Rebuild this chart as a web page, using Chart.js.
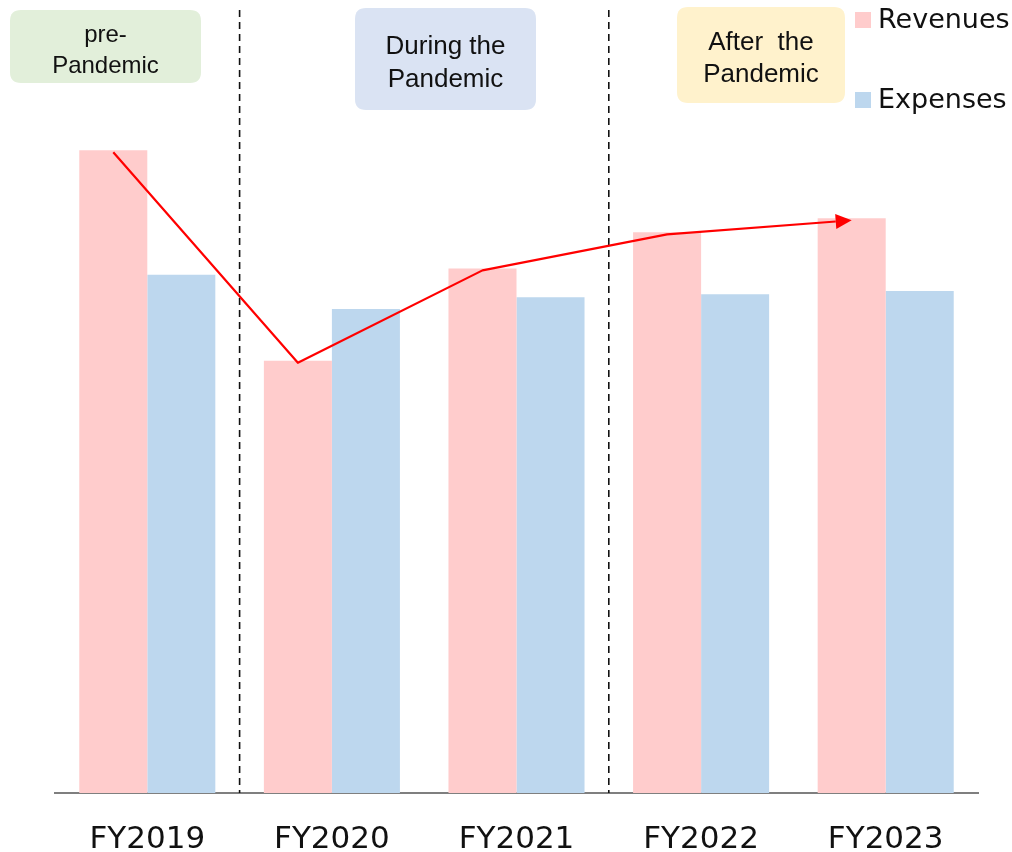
<!DOCTYPE html>
<html>
<head>
<meta charset="utf-8">
<script src="https://cdn.jsdelivr.net/npm/chart.js@4/dist/chart.umd.min.js"></script>
<style>
  html, body { margin: 0; padding: 0; background: #ffffff; }
  canvas { display: block; }
</style>
</head>
<body>
<canvas id="chart" width="1012" height="852"></canvas>
<script>
// Fiscal years on the category axis
const categories = ['FY2019', 'FY2020', 'FY2021', 'FY2022', 'FY2023'];
// Values on a 0–100 index scale
const revenues = [82.1, 55.2, 67.0, 71.6, 73.4];
const expenses = [66.2, 61.8, 63.3, 63.7, 64.1];
const seriesNames = ['Revenues', 'Expenses'];
// Period labels and the category boundaries that separate the periods
const periodLabels = [['pre-', 'Pandemic'], ['During the', 'Pandemic'], ['After  the', 'Pandemic']];
const periodBreaksAfter = [0, 2]; // dashed divider after FY2019 and after FY2021

const COLORS = {
  revenue: '#FFCCCC',
  expense: '#BDD7EE',
  trend: '#FF0000',
  divider: '#111111',
  axis: '#7F7F7F',
  text: '#111111',
  periods: ['#E2EFDA', '#DAE3F3', '#FFF2CC']
};

// Placement of the period boxes and the legend
const periodBoxes = [
  { x: 10,  y: 10, w: 191, h: 73,  font: 24, baselines: [42, 73] },
  { x: 355, y: 8,  w: 181, h: 102, font: 26, baselines: [54, 87] },
  { x: 677, y: 7,  w: 168, h: 96,  font: 26, baselines: [50, 82] }
];
const legendLayout = { x: 855, box: 16, rows: [12, 92], textX: 878, font: 27 };

function roundRect(ctx, x, y, w, h, r) {
  ctx.beginPath();
  ctx.moveTo(x + r, y);
  ctx.lineTo(x + w - r, y);
  ctx.quadraticCurveTo(x + w, y, x + w, y + r);
  ctx.lineTo(x + w, y + h - r);
  ctx.quadraticCurveTo(x + w, y + h, x + w - r, y + h);
  ctx.lineTo(x + r, y + h);
  ctx.quadraticCurveTo(x, y + h, x, y + h - r);
  ctx.lineTo(x, y + r);
  ctx.quadraticCurveTo(x, y, x + r, y);
  ctx.closePath();
}

// Dashed dividers at category boundaries
const dividerPlugin = {
  id: 'dividers',
  beforeDatasetsDraw(chart) {
    const { ctx, chartArea, scales } = chart;
    const xs = scales.x;
    ctx.save();
    ctx.strokeStyle = COLORS.divider;
    ctx.lineWidth = 1.6;
    ctx.setLineDash([7, 5]);
    periodBreaksAfter.forEach(i => {
      const px = (xs.getPixelForValue(i) + xs.getPixelForValue(i + 1)) / 2;
      ctx.beginPath();
      ctx.moveTo(px, 10);
      ctx.lineTo(px, chartArea.bottom);
      ctx.stroke();
    });
    ctx.restore();
  }
};

// Revenue trend line joining the tops of the revenue bars, with an arrowhead
const trendPlugin = {
  id: 'trend',
  afterDatasetsDraw(chart) {
    const { ctx } = chart;
    const bars = chart.getDatasetMeta(0).data;
    const pts = bars.map(b => ({ x: b.x, y: b.y + 2 }));
    ctx.save();
    ctx.strokeStyle = COLORS.trend;
    ctx.fillStyle = COLORS.trend;
    ctx.lineWidth = 2.2;
    ctx.lineJoin = 'round';
    const last = pts[pts.length - 1];
    const prev = pts[pts.length - 2];
    const ang = Math.atan2(last.y - prev.y, last.x - prev.x);
    const headLen = 16, headHalf = 7.5;
    const baseX = last.x - headLen * Math.cos(ang);
    const baseY = last.y - headLen * Math.sin(ang);
    ctx.beginPath();
    ctx.moveTo(pts[0].x, pts[0].y);
    for (let i = 1; i < pts.length - 1; i++) ctx.lineTo(pts[i].x, pts[i].y);
    ctx.lineTo(baseX, baseY);
    ctx.stroke();
    ctx.beginPath();
    ctx.moveTo(last.x, last.y);
    ctx.lineTo(baseX + headHalf * Math.sin(ang), baseY - headHalf * Math.cos(ang));
    ctx.lineTo(baseX - headHalf * Math.sin(ang), baseY + headHalf * Math.cos(ang));
    ctx.closePath();
    ctx.fill();
    ctx.restore();
  }
};

// Period boxes and the legend
const overlayPlugin = {
  id: 'overlay',
  afterDraw(chart) {
    const { ctx } = chart;
    ctx.save();
    periodBoxes.forEach((b, i) => {
      ctx.fillStyle = COLORS.periods[i];
      roundRect(ctx, b.x, b.y, b.w, b.h, 11);
      ctx.fill();
      ctx.fillStyle = COLORS.text;
      ctx.font = b.font + 'px "Liberation Sans", Arial, sans-serif';
      ctx.textAlign = 'center';
      ctx.textBaseline = 'alphabetic';
      periodLabels[i].forEach((line, j) => {
        ctx.fillText(line, b.x + b.w / 2, b.baselines[j]);
      });
    });
    const L = legendLayout;
    ctx.font = L.font + 'px "DejaVu Sans", Verdana, sans-serif';
    ctx.textAlign = 'left';
    ctx.textBaseline = 'middle';
    chart.data.datasets.forEach((ds, i) => {
      ctx.fillStyle = ds.backgroundColor;
      ctx.fillRect(L.x, L.rows[i], L.box, L.box);
      ctx.fillStyle = COLORS.text;
      ctx.fillText(ds.label, L.textX, L.rows[i] + L.box / 2 + 1);
    });
    ctx.restore();
  }
};

new Chart(document.getElementById('chart'), {
  type: 'bar',
  data: {
    labels: categories,
    datasets: [
      { label: seriesNames[0], data: revenues, backgroundColor: COLORS.revenue },
      { label: seriesNames[1], data: expenses, backgroundColor: COLORS.expense }
    ]
  },
  options: {
    responsive: false,
    animation: false,
    devicePixelRatio: 1,
    categoryPercentage: 0.737,
    barPercentage: 1.0,
    layout: { padding: { left: 55, right: 34, top: 10, bottom: 0 } },
    plugins: { legend: { display: false }, tooltip: { enabled: false } },
    scales: {
      x: {
        grid: { display: false, drawTicks: false },
        border: { display: true, color: COLORS.axis, width: 2 },
        ticks: {
          color: COLORS.text,
          padding: 28,
          font: { family: '"DejaVu Sans", Verdana, sans-serif', size: 31 }
        },
        afterFit(scale) { scale.height = 59; }
      },
      y: { display: false, min: 0, max: 100 }
    }
  },
  plugins: [dividerPlugin, trendPlugin, overlayPlugin]
});
</script>
</body>
</html>
